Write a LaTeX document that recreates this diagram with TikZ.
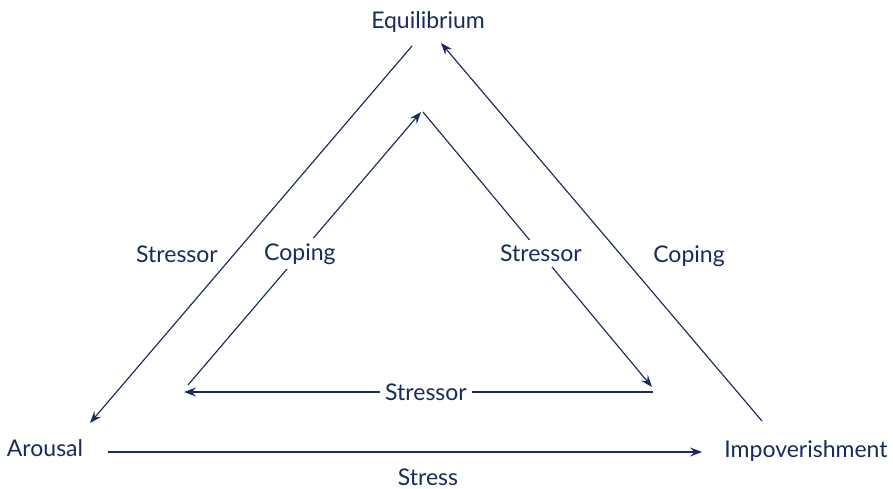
\documentclass[tikz,border=0pt]{standalone}
\usepackage{fontspec}
\setmainfont{Lato}
\usetikzlibrary{arrows.meta}

\definecolor{navy}{RGB}{24,42,94}

\begin{document}
\begin{tikzpicture}[x=1pt, y=-1pt, color=navy, font=\fontsize{23}{28}\selectfont,
    link/.style={line width=1.15pt, -{Stealth[length=12pt, width=9pt, inset=4.5pt]}},
    onlink/.style={fill=white, inner sep=5pt}]
\useasboundingbox (0,0) rectangle (893,489);

% states
\node (eq) at (428,29) [anchor=base] {Equilibrium};
\node (ar) at (45,456) [anchor=base] {Arousal};
\node (im) at (806,457) [anchor=base] {Impoverishment};

% outer ends
\coordinate (eqL) at (412,46);
\coordinate (eqR) at (441,43);
\coordinate (arT) at (90,423);
\coordinate (arR) at (108,452);
\coordinate (imL) at (702,452);
\coordinate (imT) at (762,421);

% inner ends
\coordinate (topL) at (421,112);
\coordinate (topR) at (423,112);
\coordinate (botL) at (188,385);
\coordinate (botLa) at (184,392);
\coordinate (botR) at (652,387);
\coordinate (botRa) at (653,392);

% outer cycle
\draw [link] (eqL) -- (arT);
\draw [link] (arR) -- (imL);
\draw [link] (imT) -- (eqR);
\node (outS) at (177,262) [anchor=base] {Stressor};
\node (outC) at (689,262) [anchor=base] {Coping};
\node (outT) at (428,485) [anchor=base, inner sep=1pt] {Stress};

% inner cycle
\draw [link] (botL) -- node[onlink, pos=0.48] (inC) {Coping} (topL);
\draw [link] (topR) -- node[onlink, pos=0.515] (inS) {Stressor} (botR);
\draw [link] (botRa) -- node[onlink, pos=0.484] (inB) {Stressor} (botLa);
\end{tikzpicture}
\end{document}
